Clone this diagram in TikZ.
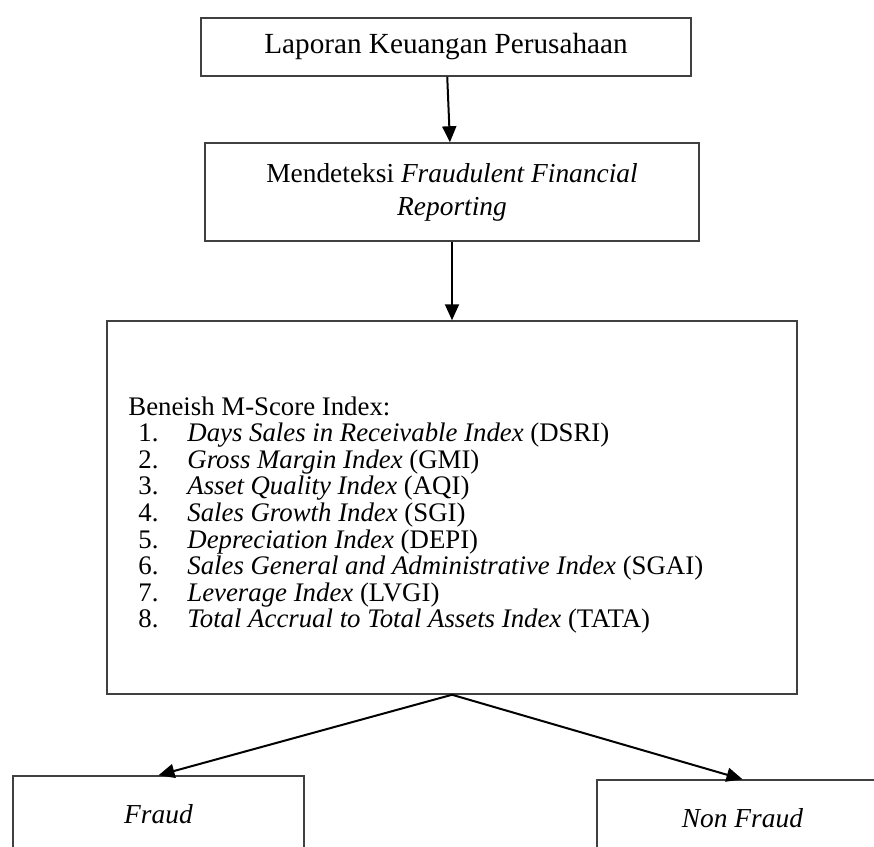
\documentclass[tikz,border=0pt]{standalone}
\usepackage{fontspec}
\setmainfont{Liberation Serif}
\usetikzlibrary{arrows.meta,positioning}

\begin{document}
\begin{tikzpicture}[x=0.5pt, y=-0.5pt, >={Triangle[length=8pt,width=7pt]},
  box/.style={rectangle,draw=black!75,line width=0.75pt,inner sep=0pt,align=center,font=\fontsize{13.7}{16.5}\selectfont},
  flow/.style={->,draw=black,line width=1pt}]
\useasboundingbox (0,0) rectangle (874,847);
\clip (0,0) rectangle (874,847);
% kotak alur
\node[box,minimum width=245pt,minimum height=29pt,font=\fontsize{14.6}{16.5}\selectfont] (lap) at (446,47) {Laporan Keuangan Perusahaan};
\node[box,minimum width=247pt,minimum height=49pt] (deteksi) at (452,192) {Mendeteksi \textit{Fraudulent Financial}\\\textit{Reporting}};
\node[box,minimum width=345pt,minimum height=186.5pt] (mscore) at (452,507.5) {};
\node[anchor=north west,inner sep=0pt,align=left,font=\fontsize{13.4}{13.3}\selectfont] (rasio) at (128,396) {Beneish M-Score Index:\\
\hspace*{5pt}\makebox[24.5pt][l]{1.}\textit{Days Sales in Receivable Index} (DSRI)\\
\hspace*{5pt}\makebox[24.5pt][l]{2.}\textit{Gross Margin Index} (GMI)\\
\hspace*{5pt}\makebox[24.5pt][l]{3.}\textit{Asset Quality Index} (AQI)\\
\hspace*{5pt}\makebox[24.5pt][l]{4.}\textit{Sales Growth Index} (SGI)\\
\hspace*{5pt}\makebox[24.5pt][l]{5.}\textit{Depreciation Index} (DEPI)\\
\hspace*{5pt}\makebox[24.5pt][l]{6.}\textit{Sales General and Administrative Index} (SGAI)\\
\hspace*{5pt}\makebox[24.5pt][l]{7.}\textit{Leverage Index} (LVGI)\\
\hspace*{5pt}\makebox[24.5pt][l]{8.}\textit{Total Accrual to Total Assets Index} (TATA)};
\node[box,minimum width=145.5pt,minimum height=38pt] (fraud) at (158.5,814) {\textit{Fraud}};
\node[box,minimum width=145.5pt,minimum height=38pt] (nonfraud) at (742.5,818) {\textit{Non Fraud}};
% panah
\draw[flow] (lap) -- (deteksi);
\draw[flow] (deteksi) -- (mscore);
\draw[flow] (mscore.south) -- (fraud.north);
\draw[flow] (mscore.south) -- (nonfraud.north);
\end{tikzpicture}
\end{document}
